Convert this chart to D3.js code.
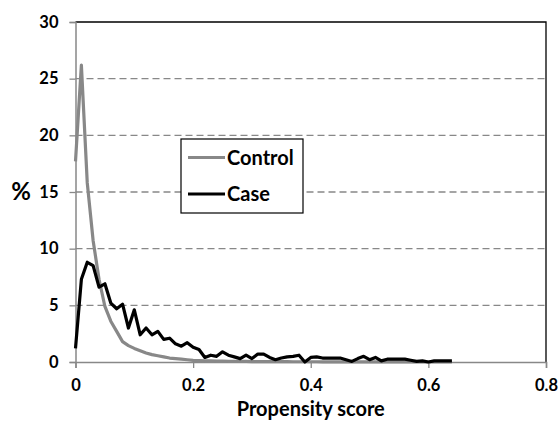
<!DOCTYPE html>
<html lang="en">
<head>
<meta charset="UTF-8">
<title>Propensity score</title>
<style>
  body { margin: 0; background: #fff; }
  text { font-family: Lato, "Open Sans", sans-serif; font-weight: bold; fill: #000; }
</style>
</head>
<body>
<svg width="559" height="425"></svg>
<script src="https://d3js.org/d3.v7.min.js"></script>
<script>
// propensity score bins, step 0.01 from 0 to 0.64
const scores = d3.range(65).map(i => +(i / 100).toFixed(2));

const control = [
  17.7, 26.2, 15.8, 10.7, 7.3, 4.9, 3.6, 2.7, 1.8, 1.45,
  1.2, 1.0, 0.8, 0.65, 0.55, 0.45, 0.35, 0.3, 0.25, 0.2,
  0.15, 0.12, 0.1, 0.1, 0.08, 0.07, 0.06, 0.06, 0.05, 0.05,
  0.04, 0.04, 0.04, 0.03, 0.03, 0.03, 0.03, 0.02, 0.02, 0.02,
  0.02, 0.02, 0.01, 0.01, 0.01, 0.01, 0.01, 0.01, 0.01, 0.01,
  0.01, 0.01, 0.01, 0.01, 0.01, 0.01, 0.01, 0, 0, 0.01,
  0, 0, 0, 0, 0
];

const cases = [
  1.2, 7.3, 8.8, 8.5, 6.6, 6.9, 5.2, 4.7, 5.1, 3.0,
  4.6, 2.4, 3.0, 2.4, 2.7, 2.0, 2.1, 1.6, 1.4, 1.7,
  1.3, 1.1, 0.4, 0.6, 0.5, 0.9, 0.6, 0.45, 0.3, 0.6,
  0.3, 0.7, 0.7, 0.4, 0.2, 0.35, 0.45, 0.5, 0.6, 0.0,
  0.4, 0.45, 0.35, 0.35, 0.35, 0.35, 0.2, 0.05, 0.3, 0.5,
  0.2, 0.4, 0.1, 0.25, 0.25, 0.25, 0.25, 0.15, 0.05, 0.1,
  0.0, 0.1, 0.1, 0.1, 0.1
];

const xTicks = [0, 0.2, 0.4, 0.6, 0.8];
const yTicks = [0, 5, 10, 15, 20, 25, 30];
const seriesNames = ["Control", "Case"];
const seriesColors = ["#888888", "#000000"];

const svg = d3.select("svg");
const plotL = 75.5, plotR = 546, plotT = 22, plotB = 362;

const x = d3.scaleLinear().domain([0, 0.8]).range([plotL, plotR]);
const y = d3.scaleLinear().domain([0, 30]).range([plotB, plotT]);

// dashed gridlines
svg.append("g").selectAll("line")
  .data(yTicks.filter(d => d > 0 && d < 30))
  .join("line")
  .attr("x1", plotL).attr("x2", plotR)
  .attr("y1", d => y(d)).attr("y2", d => y(d))
  .attr("stroke", "#888").attr("stroke-width", 1.3)
  .attr("stroke-dasharray", "7,4");

// plot area border on top / right
svg.append("path")
  .attr("d", `M${plotL},${plotT}H${plotR}V${plotB}`)
  .attr("fill", "none").attr("stroke", "#000").attr("stroke-width", 1.3);

// axes
const xAxis = svg.append("g")
  .attr("transform", `translate(0,${plotB})`)
  .call(d3.axisBottom(x).tickValues(xTicks).tickFormat(d => d === 0 ? "0" : d3.format(".1f")(d)).tickSize(6).tickPadding(11));
const yAxis = svg.append("g")
  .attr("transform", `translate(${plotL},0)`)
  .call(d3.axisLeft(y).tickValues(yTicks).tickSize(6).tickPadding(11));

[xAxis, yAxis].forEach(a => {
  a.select(".domain").attr("stroke", "#888").attr("stroke-width", 1.5);
  a.selectAll(".tick line").attr("stroke", "#888").attr("stroke-width", 1.3);
  a.selectAll("text").attr("font-size", 16.5).attr("font-family", "Lato, sans-serif").attr("font-weight", "bold").attr("fill", "#000");
});

// lines
const line = d3.line().x((d, i) => x(scores[i])).y(d => y(d));
[control, cases].forEach((s, k) => {
  svg.append("path")
    .datum(s)
    .attr("d", line)
    .attr("fill", "none")
    .attr("stroke", seriesColors[k])
    .attr("stroke-width", 3.2)
    .attr("stroke-linejoin", "round");
});

// axis titles
svg.append("text")
  .attr("x", (plotL + plotR) / 2).attr("y", 416)
  .attr("text-anchor", "middle").attr("font-size", 20)
  .text("Propensity score");
svg.append("text")
  .attr("x", 21).attr("y", 200)
  .attr("text-anchor", "middle").attr("font-size", 24)
  .text("%");

// legend
const lg = svg.append("g");
lg.append("rect")
  .attr("x", 181).attr("y", 139).attr("width", 122).attr("height", 74)
  .attr("fill", "#fff").attr("stroke", "#000").attr("stroke-width", 1.2);
seriesNames.forEach((name, k) => {
  const ly = 157.5 + k * 36.5;
  lg.append("line")
    .attr("x1", 188).attr("x2", 225).attr("y1", ly).attr("y2", ly)
    .attr("stroke", seriesColors[k]).attr("stroke-width", 3.2);
  lg.append("text")
    .attr("x", 227).attr("y", ly + 7)
    .attr("font-size", 20)
    .text(name);
});
</script>
</body>
</html>
